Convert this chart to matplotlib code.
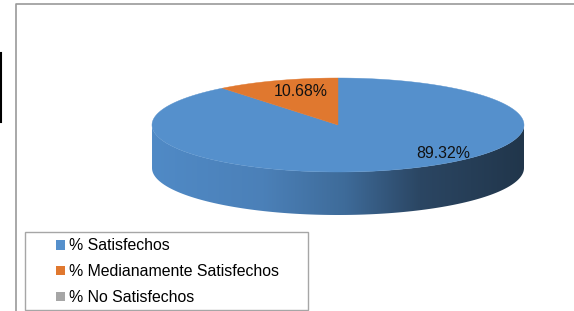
import matplotlib
matplotlib.use("Agg")
import matplotlib.pyplot as plt
import numpy as np
from matplotlib.colors import LinearSegmentedColormap
from matplotlib.lines import Line2D
from matplotlib.patches import Patch, Polygon, Rectangle

plt.rcParams['font.family'] = ['Liberation Sans', 'DejaVu Sans']

# data
categories = ['% Satisfechos', '% Medianamente Satisfechos', '% No Satisfechos']
values = [89.32, 10.68, 0.0]
value_labels = ['89.32%', '10.68%', '']
colors = ['#5590cc', '#e0782f', '#a6a6a6']

# layout (pixels of the 574x311 canvas)
W, H = 574, 311
CX, CY, RX, RY, DEPTH = 338, 125, 186, 47, 43
label_pos = [(443, 153), (301, 92), None]
FONT = 11.4


def ellipse_xy(t_deg, dy=0.0):
    t = np.radians(t_deg)
    return CX + RX * np.cos(t), CY + dy - RY * np.sin(t)


def slice_angles(vals, start=90.0):
    """Clockwise slices starting at 12 o'clock, like Excel."""
    total = float(sum(vals))
    out = []
    for v in vals:
        sweep = 360.0 * v / total
        out.append((start - sweep, start))
        start -= sweep
    return out


side_cmap = LinearSegmentedColormap.from_list(
    'side', [(0.0, '#508ac6'), (0.3, '#4b80b8'), (0.52, '#3e6b99'),
             (0.72, '#2b4663'), (1.0, '#21364b')])

fig = plt.figure(figsize=(W / 100, H / 100), dpi=100)
ax = fig.add_axes([0, 0, 1, 1])

angles = slice_angles(values)

# visible front wall of each slice (angles between -180 and 0)
for (lo, hi), v in zip(angles, values):
    if v <= 0:
        continue
    for k in (-360, 0, 360):
        a, b = max(lo + k, -180), min(hi + k, 0)
        if b <= a:
            continue
        t = np.linspace(a, b, 120)
        xt, yt = ellipse_xy(t)
        xb, yb = ellipse_xy(t[::-1], DEPTH)
        poly = Polygon(np.column_stack([np.r_[xt, xb], np.r_[yt, yb]]),
                       closed=True, facecolor='none', edgecolor='none')
        ax.add_patch(poly)
        grad = np.linspace(0, 1, 256)[None, :]
        im = ax.imshow(grad, cmap=side_cmap, aspect='auto',
                       extent=(CX - RX, CX + RX, CY + RY + DEPTH, CY - RY),
                       interpolation='bilinear', zorder=1)
        im.set_clip_path(poly)

# top faces
for (lo, hi), v, c in zip(angles, values, colors):
    if v <= 0:
        continue
    t = np.linspace(hi, lo, 200)
    xs, ys = ellipse_xy(t)
    pts = np.column_stack([np.r_[CX, xs], np.r_[CY, ys]])
    ax.add_patch(Polygon(pts, closed=True, facecolor=c, edgecolor=c,
                         linewidth=0.3, zorder=2))

for txt, pos in zip(value_labels, label_pos):
    if pos is None or not txt:
        continue
    ax.text(pos[0], pos[1], txt, fontsize=FONT, color='#111111',
            ha='center', va='center', zorder=4)

# legend
ax.add_patch(Rectangle((25, 232), 283, 78, facecolor='white',
                       edgecolor='#a6a6a6', linewidth=1.0, zorder=3))
handles = [Patch(facecolor=c, edgecolor='none') for c in colors]
ax.legend(handles, categories, loc='upper left', frameon=False,
          bbox_to_anchor=(56, 238.5), bbox_transform=ax.transData,
          fontsize=FONT, handlelength=0.55, handleheight=0.55,
          handletextpad=0.3, borderpad=0, borderaxespad=0,
          labelspacing=0.68)

# chart frame and stray line on the far left
ax.add_line(Line2D([16, 16, W], [H, 3.5, 3.5], color='#9a9a9a', linewidth=1.2))
ax.add_line(Line2D([0.8, 0.8], [53, 122], color='black', linewidth=1.5))

ax.set_xlim(0, W)
ax.set_ylim(H, 0)
ax.axis('off')

fig.savefig('out.png', dpi=100)
